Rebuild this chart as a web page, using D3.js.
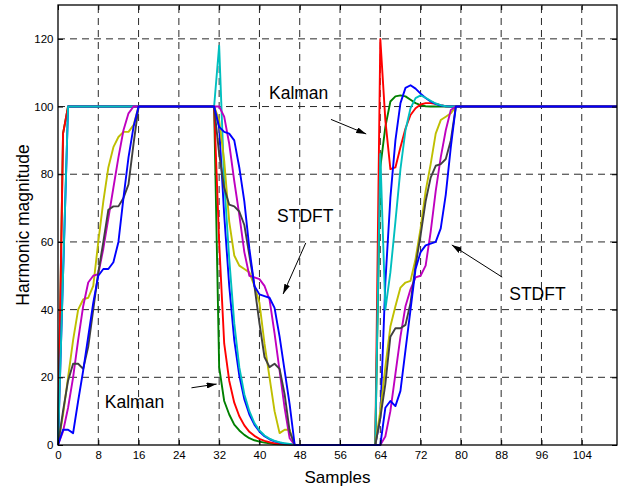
<!DOCTYPE html>
<html><head><meta charset="utf-8">
<script src="https://cdn.jsdelivr.net/npm/d3@7"></script>
<style>body{margin:0;background:#fff}svg{display:block}</style>
</head><body>
<svg id="chart" width="625" height="488"></svg>
<script>
// ---- data ----
const xTicks = [0, 8, 16, 24, 32, 40, 48, 56, 64, 72, 80, 88, 96, 104];
const yTicks = [0, 20, 40, 60, 80, 100, 120];
const xLabel = "Samples";
const yLabel = "Harmonic magnitude";

// Kalman estimates [sample, magnitude]
const kalmanGreen = [[0,0],[1,92],[2,100],[31,100],[32,23],[33,13],[34,9],[35,6],[36,4.3],[37,3],[38,2],[39,1.4],[40,1],[41,0.7],[42,0.5],[43,0.3],[44,0.2],[46,0.1],[47,0],[63,0],[64,82],[65,94],[66,101.5],[67,103],[68,103.3],[69,103],[70,102],[71,101],[72,100.4],[73,100.1],[74,100],[111,100]];
const kalmanRed = [[0,0],[1,92],[2,100],[31,100],[32,60],[33,30],[34,19],[35,12.5],[36,8.5],[37,5.8],[38,3.9],[39,2.7],[40,1.8],[41,1.2],[42,0.8],[43,0.5],[44,0.3],[45,0.2],[46,0.1],[47,0],[63,0],[64,120],[65,96],[66,81.5],[67,82],[68,88],[69,93.5],[70,97.5],[71,99.5],[72,100.6],[73,101],[74,101],[75,100.8],[76,100.4],[77,100.1],[78,100],[111,100]];
const kalmanBlue = [[0,0],[1,50],[2,100],[31,100],[32,94],[33,68],[34,47],[35,31],[36,20.5],[37,13.5],[38,9],[39,6],[40,4],[41,2.6],[42,1.7],[43,1.1],[44,0.7],[45,0.4],[46,0.2],[47,0],[63,0],[64,8],[65,48],[66,73],[67,90],[68,101],[69,105.5],[70,106.3],[71,105.3],[72,103.8],[73,102.5],[74,101.5],[75,100.8],[76,100.3],[77,100.1],[78,100],[111,100]];
const kalmanCyan = [[0,0],[1,50],[2,100],[31,100],[32,118],[33,78],[34,55],[35,36],[36,23],[37,15],[38,10],[39,6.5],[40,4.3],[41,2.8],[42,1.9],[43,1.2],[44,0.8],[45,0.5],[46,0.3],[47,0.1],[48,0],[63,0],[64,86],[65,40],[66,51],[67,66],[68,81.5],[69,93],[70,99.5],[71,102.5],[72,103.3],[73,102.6],[74,101.7],[75,100.9],[76,100.4],[77,100.1],[78,100],[111,100]];

// STDFT estimates [sample, magnitude]
const stdftYellow = [[0,0],[1,9],[2,20],[3,31],[4,40],[5,43],[6,43.5],[7,47],[8,60],[9,72],[10,82],[11,88],[12,91],[13,92.5],[14,92.5],[15,94.5],[16,100],[31,100],[32,96],[33,84],[34,66],[35,56],[36,53],[37,52],[38,51],[39,47],[40,42],[41,30],[42,20],[43,10],[44,3.5],[45,4.5],[46,4.5],[47,0],[63,0],[64,10],[65,23],[66,35],[67,41],[68,46.5],[69,48],[70,48.5],[71,55],[72,64],[73,75],[74,83],[75,92],[76,96],[77,97],[78,98],[79,100],[111,100]];
const stdftMagenta = [[0,0],[1,4],[2,11],[3,20],[4,31],[5,41],[6,48],[7,50],[8,50.5],[9,58],[10,67],[11,76],[12,85],[13,93],[14,98],[15,100],[31,100],[32,100],[33,97],[34,89],[35,78],[36,68],[37,57],[38,50],[39,49.5],[40,49],[41,47],[42,43],[43,33],[44,22],[45,11],[46,2],[47,0],[64,0],[65,2.5],[66,10],[67,21],[68,32],[69,41],[70,46],[71,49.5],[72,50],[73,53],[74,63],[75,75],[76,85],[77,93],[78,99],[79,100],[111,100]];
const stdftGray = [[0,0],[1,10],[2,19],[3,24],[4,24],[5,22.5],[6,29],[7,40],[8,51],[9,60],[10,69.5],[11,70.5],[12,70.5],[13,73],[14,77],[15,89],[16,100],[31,100],[32,86],[33,76],[34,71],[35,70.5],[36,69],[37,65],[38,56],[39,47],[40,36],[41,26],[42,23],[43,24],[44,22.5],[45,15],[46,4],[47,0],[63,0],[64,8],[65,18],[66,32],[67,34.5],[68,34.5],[69,35.5],[70,42],[71,53],[72,62],[73,72],[74,79],[75,82.5],[76,83],[77,84.5],[78,90],[79,100],[111,100]];
const stdftBlue = [[0,0],[1,4.5],[2,4.5],[3,3.5],[4,13],[5,22],[6,32],[7,42],[8,50],[9,52],[10,52],[11,54],[12,60],[13,73],[14,85],[15,94],[16,100],[31,100],[32,94],[33,92.5],[34,92],[35,90],[36,82],[37,72],[38,58],[39,47],[40,44.5],[41,44],[42,43.5],[43,40.5],[44,32],[45,22],[46,12],[47,0],[64,0],[65,11],[66,13],[67,11.5],[68,16],[69,28],[70,40],[71,52],[72,57],[73,59],[74,59.5],[75,60],[76,64],[77,74],[78,88],[79,100],[111,100]];

// annotations: text anchor (sample, magnitude) and arrow from -> to in data units
const annoText = ["Kalman", "STDFT", "STDFT", "Kalman"];
const annoTextAt = [[41.9, 102.2], [43.5, 66], [89.6, 42.8], [9.3, 10.9]];
const annoArrowFrom = [[54.2, 96.2], [49.2, 59.7], [88.2, 49.6], [26.5, 16.9]];
const annoArrowTo = [[61.2, 91.9], [44.7, 44.6], [78.2, 59.1], [31.5, 18.0]];

// ---- chart ----
const W = 625, H = 488;
const margin = {left: 58, right: 8, top: 5, bottom: 43};
const FONT = "'Liberation Sans', Arial, Helvetica, sans-serif";

const svg = d3.select("#chart");
const x = d3.scaleLinear().domain([0, 111]).range([margin.left, W - margin.right]);
const y = d3.scaleLinear().domain([0, 130]).range([H - margin.bottom, margin.top]);

svg.append("rect").attr("x",0).attr("y",0).attr("width",W).attr("height",H).attr("fill","#fff");

// grid
const grid = svg.append("g");
grid.selectAll("line.vg").data(xTicks.filter(d => d > 0)).join("line")
  .attr("x1", d => x(d)).attr("x2", d => x(d))
  .attr("y1", y(0)).attr("y2", y(130))
  .attr("stroke", "#2a2a2a").attr("stroke-width", 1).attr("stroke-dasharray", "7,5");
grid.selectAll("line.hg").data(yTicks.filter(d => d > 0)).join("line")
  .attr("x1", x(0)).attr("x2", x(111))
  .attr("y1", d => y(d)).attr("y2", d => y(d))
  .attr("stroke", "#2a2a2a").attr("stroke-width", 1).attr("stroke-dasharray", "7,5");

// series
const series = [
  {data: kalmanGreen, color: "#008000"},
  {data: kalmanRed, color: "#ff0000"},
  {data: kalmanBlue, color: "#0000ff"},
  {data: kalmanCyan, color: "#00bfbf"},
  {data: stdftYellow, color: "#bfbf00"},
  {data: stdftMagenta, color: "#bf00bf"},
  {data: stdftGray, color: "#404040"},
  {data: stdftBlue, color: "#0000ff"}
];
const line = d3.line().x(d => x(d[0])).y(d => y(d[1]));
svg.append("g").selectAll("path").data(series).join("path")
  .attr("d", d => line(d.data))
  .attr("fill", "none")
  .attr("stroke", d => d.color)
  .attr("stroke-width", 1.9)
  .attr("stroke-linejoin", "round");

// axes
const xAxis = d3.axisBottom(x).tickValues(xTicks).tickSize(-5).tickPadding(9);
const yAxis = d3.axisLeft(y).tickValues(yTicks).tickSize(-5).tickPadding(9);
const gx = svg.append("g").attr("transform", `translate(0,${y(0)})`).call(xAxis);
const gy = svg.append("g").attr("transform", `translate(${x(0)},0)`).call(yAxis);
const gxt = svg.append("g").attr("transform", `translate(0,${y(130)})`).call(d3.axisTop(x).tickValues(xTicks).tickSize(-5).tickFormat(""));
const gyr = svg.append("g").attr("transform", `translate(${x(111)},0)`).call(d3.axisRight(y).tickValues(yTicks).tickSize(-5).tickFormat(""));
[gx, gy, gxt, gyr].forEach(g => {
  g.select(".domain").remove();
  g.selectAll(".tick line").attr("stroke", "#000").attr("stroke-width", 1);
  g.selectAll("text").attr("font-family", FONT).attr("font-size", "11.5px").attr("fill", "#000");
});
gy.selectAll("text").attr("x", -4.5);
gx.selectAll("text").attr("y", 5.5).attr("dy", "0.71em");

// box
svg.append("rect")
  .attr("x", x(0)).attr("y", y(130))
  .attr("width", x(111) - x(0)).attr("height", y(0) - y(130))
  .attr("fill", "none").attr("stroke", "#000").attr("stroke-width", 1.3);

// axis labels
svg.append("text").text(xLabel)
  .attr("x", (x(0) + x(111)) / 2).attr("y", 483)
  .attr("text-anchor", "middle").attr("font-family", FONT).attr("font-size", "17px").attr("fill", "#000");
svg.append("text").text(yLabel)
  .attr("transform", `translate(28.5,${(y(0) + y(130)) / 2}) rotate(-90)`)
  .attr("text-anchor", "middle").attr("font-family", FONT).attr("font-size", "17.5px").attr("fill", "#000");

// annotations
svg.append("defs").append("marker")
  .attr("id", "arrow").attr("viewBox", "0 0 10 6").attr("refX", 10).attr("refY", 3)
  .attr("markerUnits", "userSpaceOnUse").attr("markerWidth", 10).attr("markerHeight", 6)
  .attr("orient", "auto")
  .append("path").attr("d", "M0,0 L10,3 L0,6 Z").attr("fill", "#000");

const ann = svg.append("g");
annoText.forEach((t, i) => {
  ann.append("text").text(t)
    .attr("x", x(annoTextAt[i][0])).attr("y", y(annoTextAt[i][1]))
    .attr("font-family", FONT).attr("font-size", "17.5px").attr("fill", "#000");
  ann.append("line")
    .attr("x1", x(annoArrowFrom[i][0])).attr("y1", y(annoArrowFrom[i][1]))
    .attr("x2", x(annoArrowTo[i][0])).attr("y2", y(annoArrowTo[i][1]))
    .attr("stroke", "#000").attr("stroke-width", 1)
    .attr("marker-end", "url(#arrow)");
});
</script>
</body></html>
